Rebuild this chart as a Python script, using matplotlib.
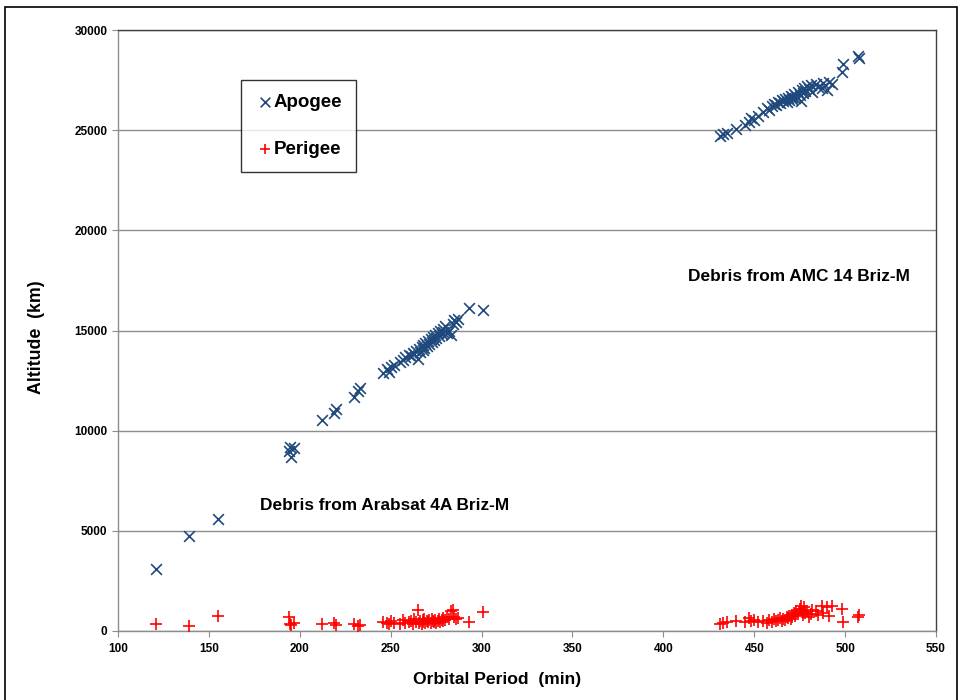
import matplotlib.pyplot as plt
from matplotlib.patches import Rectangle

plt.rcParams['font.family'] = ['Liberation Sans', 'DejaVu Sans']

# Arabsat 4A Briz-M debris: period (min), apogee (km), perigee (km)
arab_period = [121, 139, 155, 194, 194.5, 195, 197, 212, 219, 220, 230, 232, 233,
               246, 248, 249, 250, 252, 255, 257, 258, 260, 261, 262, 263, 264, 265,
               265.5, 266, 267, 267.5, 268, 268.5, 269, 270, 270.5, 271, 272, 272.5,
               273, 274, 274.5, 275, 276, 276.5, 277, 278, 278.5, 279, 280, 281, 282,
               283, 284, 285, 286, 287, 293, 301]
arab_apogee = [3100, 4750, 5600, 9000, 9200, 8700, 9150, 10550, 10900, 11100, 11700, 12000, 12150,
               12900, 13100, 12950, 13200, 13300, 13450, 13550, 13700, 13800, 13750, 13900, 13850, 14000, 13600,
               14100, 13950, 14200, 14050, 14300, 14150, 14400, 14250, 14500, 14350, 14600, 14450,
               14700, 14550, 14800, 14650, 14900, 14750, 15000, 14850, 15100, 14950, 15200, 14900, 15000,
               14800, 15300, 15500, 15400, 15550, 16100, 16000]
arab_perigee = [350, 250, 750, 700, 350, 300, 400, 350, 400, 300, 350, 250, 300,
                450, 400, 350, 500, 400, 350, 550, 400, 450, 500, 350, 600, 450, 1050,
                400, 500, 350, 550, 450, 600, 400, 500, 450, 550, 400, 600,
                500, 450, 550, 400, 500, 600, 450, 550, 500, 650, 550, 700, 600,
                1000, 1050, 700, 600, 650, 450, 950]

# AMC 14 Briz-M debris
amc_period = [431, 433, 435, 440, 445, 447, 448, 450, 452, 455, 457, 458, 460, 461, 462,
              463, 464, 465, 466, 467, 468, 468.5, 469, 470, 470.5, 471, 472, 472.5, 473,
              474, 475, 475.5, 476, 477, 477.5, 478, 479, 480, 481, 482, 484, 485, 487,
              488, 490, 491, 493, 498, 499, 507, 507.5]
amc_apogee = [24700, 24800, 24850, 25050, 25250, 25400, 25600, 25500, 25700, 25900, 26100, 26000,
              26200, 26300, 26250, 26400, 26350, 26500, 26450, 26550, 26400, 26600, 26500, 26700,
              26550, 26650, 26800, 26600, 26700, 26900, 26750, 26450, 27000, 26850, 27100, 26950,
              27200, 27050, 27250, 26900, 27300, 27150, 27100, 27350, 27000, 27400, 27300, 27900,
              28300, 28700, 28600]
amc_perigee = [350, 400, 450, 500, 450, 650, 500, 550, 450, 500, 400, 550, 450, 600, 500,
               550, 650, 500, 600, 550, 700, 650, 750, 600, 800, 700, 900, 750, 1000,
               850, 1100, 1250, 950, 800, 1200, 900, 1000, 700, 850, 1050, 1000, 800, 1250,
               900, 1200, 750, 1250, 1100, 450, 700, 800]

x_ticks = list(range(100, 551, 50))
y_ticks = list(range(0, 30001, 5000))

period = arab_period + amc_period
apogee = arab_apogee + amc_apogee
perigee = arab_perigee + amc_perigee

fig = plt.figure(figsize=(9.62, 7.0), dpi=100)
ax = fig.add_axes([0.1227, 0.0986, 0.8503, 0.8585])

blue = '#1F497D'
red = '#FF0000'
ax.scatter(period, apogee, marker='x', s=60, color=blue, linewidths=1.2, label='Apogee', zorder=3)
ax.scatter(period, perigee, marker='+', s=70, color=red, linewidths=1.2, label='Perigee', zorder=3)

ax.set_xlim(100, 550)
ax.set_ylim(0, 30000)
ax.set_xticks(x_ticks)
ax.set_yticks(y_ticks)
ax.yaxis.grid(True, color='#8c8c8c', linewidth=1.0)
ax.set_axisbelow(True)
for lab in ax.get_xticklabels() + ax.get_yticklabels():
    lab.set_fontweight('bold')
ax.tick_params(labelsize=8.5, length=4, color='#8c8c8c')
ax.tick_params(axis='x', pad=5)
ax.spines['left'].set_color('#8c8c8c')
ax.spines['bottom'].set_color('#8c8c8c')
ax.spines['top'].set_color('#404040')
ax.spines['right'].set_color('#404040')
for sp in ax.spines.values():
    sp.set_linewidth(1.0)

ax.set_xlabel('Orbital Period  (min)', fontsize=12.6, fontweight='bold', va='center')
ax.set_ylabel('Altitude  (km)', fontsize=12.8, fontweight='bold', va='center')
ax.xaxis.set_label_coords(0.463, -0.0815)
ax.yaxis.set_label_coords(-0.1002, 0.489)

ax.text(474.5, 17700, 'Debris from AMC 14 Briz-M', fontsize=12.4, fontweight='bold', ha='center', va='center')
ax.text(178, 6240, 'Debris from Arabsat 4A Briz-M', fontsize=12.4, fontweight='bold', ha='left', va='center')

leg = ax.legend(loc='upper left', bbox_to_anchor=(0.1504, 0.9168), prop={'weight': 'bold', 'size': 13.5},
                frameon=True, fancybox=False, edgecolor='black', borderpad=0.75, labelspacing=1.6,
                handletextpad=0.0, handlelength=1.0, markerscale=0.9, borderaxespad=0.0)
leg.get_frame().set_linewidth(1.0)

fig.patches.append(Rectangle((0.005, -0.01), 0.99, 1.0, transform=fig.transFigure,
                             fill=False, edgecolor='black', linewidth=1.2))

fig.savefig('out.png', dpi=100)
